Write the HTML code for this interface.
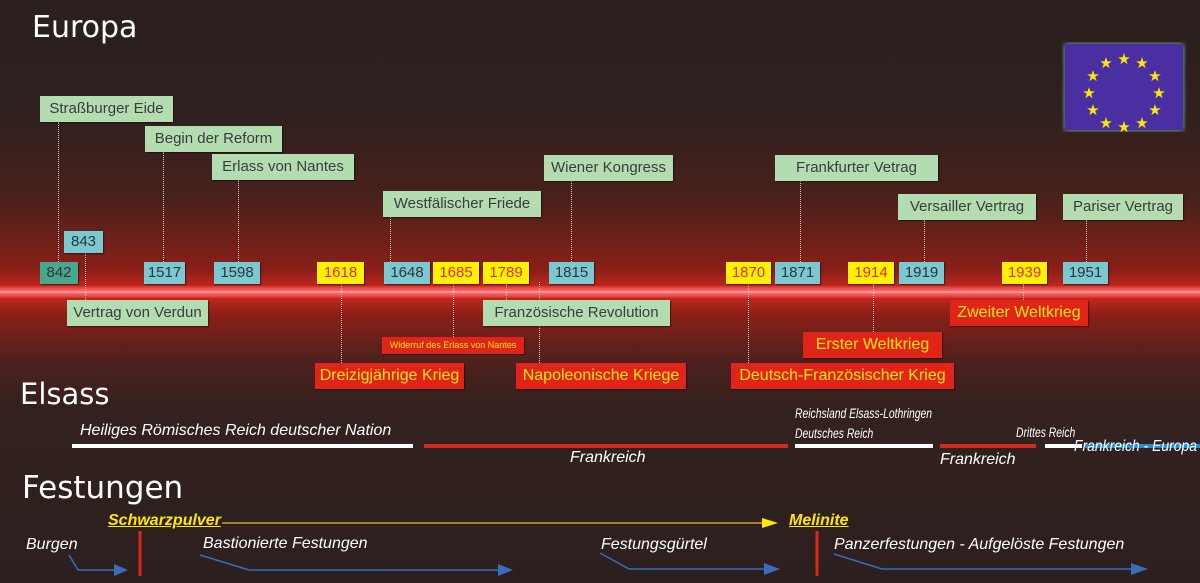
<!DOCTYPE html>
<html><head><meta charset="utf-8"><style>
*{margin:0;padding:0;box-sizing:border-box}
body{width:1200px;height:583px;overflow:hidden;position:relative;font-family:"Liberation Sans",sans-serif;
background:linear-gradient(to bottom,#2b201e 0px,#2e201e 110px,#4a211c 200px,#8a1f17 270px,#c8281e 289px,#c8281e 295px,#8a1f17 315px,#4f211d 360px,#32211f 410px,#2c201e 583px)}
.b{position:absolute;height:26px;font-size:15px;line-height:26px;text-align:center;white-space:nowrap;box-shadow:1px 1px 1px rgba(0,0,0,.5)}
.g{background:#b3dcb0;color:#3c3c3c}
.c{background:#7ac8d2;color:#333}
.d{background:#47a88e;color:#333}
.y{background:#fff200;color:#e8281e}
.r{background:#e0241a;color:#ffe800;font-size:16px}
.v{position:absolute;width:0;border-left:1px dotted #d8c8c0}
.t{position:absolute;color:#fff;font-family:"DejaVu Sans",sans-serif;white-space:nowrap}
.i{position:absolute;color:#fff;font-style:italic;font-size:16px;white-space:nowrap}
.h{position:absolute;height:4px}
</style></head><body>
<div style="position:absolute;left:0;top:286px;width:1200px;height:12px;background:linear-gradient(#d8302a,#ff6a6a 40%,#ffb0b0 50%,#ff6a6a 60%,#d8302a)"></div>
<div class="t" style="left:32px;top:10px;font-size:30px">Europa</div>
<div class="t" style="left:20px;top:377px;font-size:29px">Elsass</div>
<div class="t" style="left:22px;top:470px;font-size:31px">Festungen</div>
<svg style="position:absolute;left:1062px;top:42px" width="124" height="90">
<rect x="3" y="2" width="118" height="86" fill="#4a2fa3" style="filter:drop-shadow(0 0 3px #7bb)"/>
<g fill="#ffe800" font-size="15" text-anchor="middle" font-family="DejaVu Sans">
<text x="62" y="22">★</text><text x="80" y="26">★</text><text x="93" y="39">★</text><text x="97" y="56">★</text><text x="93" y="73">★</text><text x="80" y="86">★</text><text x="62" y="90">★</text><text x="44" y="86">★</text><text x="31" y="73">★</text><text x="27" y="56">★</text><text x="31" y="39">★</text><text x="44" y="26">★</text>
</g></svg>
<div class="v" style="left:58px;top:122px;height:140px"></div>
<div class="v" style="left:163px;top:152px;height:110px"></div>
<div class="v" style="left:238px;top:180px;height:82px"></div>
<div class="v" style="left:390px;top:217px;height:45px"></div>
<div class="v" style="left:571px;top:181px;height:81px"></div>
<div class="v" style="left:800px;top:181px;height:81px"></div>
<div class="v" style="left:924px;top:220px;height:42px"></div>
<div class="v" style="left:1086px;top:220px;height:42px"></div>
<div class="v" style="left:85px;top:253px;height:47px"></div>
<div class="v" style="left:506px;top:284px;height:16px"></div>
<div class="v" style="left:453px;top:284px;height:53px"></div>
<div class="v" style="left:341px;top:284px;height:79px"></div>
<div class="v" style="left:539px;top:282px;height:81px"></div>
<div class="v" style="left:748px;top:284px;height:79px"></div>
<div class="v" style="left:873px;top:284px;height:48px"></div>
<div class="v" style="left:1023px;top:284px;height:16px"></div>
<div class="b g" style="left:40px;top:96px;width:133px">Straßburger Eide</div>
<div class="b g" style="left:145px;top:126px;width:137px">Begin der Reform</div>
<div class="b g" style="left:212px;top:154px;width:142px">Erlass von Nantes</div>
<div class="b g" style="left:383px;top:191px;width:158px">Westfälischer Friede</div>
<div class="b g" style="left:544px;top:155px;width:129px">Wiener Kongress</div>
<div class="b g" style="left:775px;top:155px;width:163px">Frankfurter Vetrag</div>
<div class="b g" style="left:898px;top:194px;width:138px">Versailler Vertrag</div>
<div class="b g" style="left:1063px;top:194px;width:120px">Pariser Vertrag</div>
<div class="b c" style="left:64px;top:231px;width:39px;height:22px;line-height:22px">843</div>
<div class="b d" style="left:40px;top:262px;width:38px;height:22px;line-height:22px">842</div>
<div class="b c" style="left:144px;top:262px;width:41px;height:22px;line-height:22px">1517</div>
<div class="b c" style="left:214px;top:262px;width:46px;height:22px;line-height:22px">1598</div>
<div class="b y" style="left:317px;top:262px;width:47px;height:22px;line-height:22px">1618</div>
<div class="b c" style="left:384px;top:262px;width:46px;height:22px;line-height:22px">1648</div>
<div class="b y" style="left:433px;top:262px;width:46px;height:22px;line-height:22px">1685</div>
<div class="b y" style="left:483px;top:262px;width:46px;height:22px;line-height:22px">1789</div>
<div class="b c" style="left:549px;top:262px;width:45px;height:22px;line-height:22px">1815</div>
<div class="b y" style="left:726px;top:262px;width:45px;height:22px;line-height:22px">1870</div>
<div class="b c" style="left:775px;top:262px;width:45px;height:22px;line-height:22px">1871</div>
<div class="b y" style="left:848px;top:262px;width:46px;height:22px;line-height:22px">1914</div>
<div class="b c" style="left:899px;top:262px;width:45px;height:22px;line-height:22px">1919</div>
<div class="b y" style="left:1002px;top:262px;width:45px;height:22px;line-height:22px">1939</div>
<div class="b c" style="left:1063px;top:262px;width:45px;height:22px;line-height:22px">1951</div>
<div class="b g" style="left:67px;top:300px;width:141px">Vertrag von Verdun</div>
<div class="b g" style="left:483px;top:300px;width:187px">Französische Revolution</div>
<div class="b r" style="left:382px;top:337px;width:142px;height:17px;line-height:17px;font-size:9px">Widerruf des Erlass von Nantes</div>
<div class="b r" style="left:315px;top:363px;width:149px">Dreizigjährige Krieg</div>
<div class="b r" style="left:516px;top:363px;width:170px">Napoleonische Kriege</div>
<div class="b r" style="left:731px;top:363px;width:223px">Deutsch-Französischer Krieg</div>
<div class="b r" style="left:803px;top:332px;width:139px">Erster Weltkrieg</div>
<div class="b r" style="left:950px;top:300px;width:138px">Zweiter Weltkrieg</div>
<div class="i" style="left:80px;top:422px">Heiliges Römisches Reich deutscher Nation</div>
<div class="h" style="left:72px;top:444px;width:341px;background:#fff"></div>
<div class="h" style="left:424px;top:444px;width:364px;background:#d42a20"></div>
<div class="i" style="left:570px;top:449px">Frankreich</div>
<div class="i" style="left:795px;top:405px;font-size:14px;transform:scaleX(.74);transform-origin:left">Reichsland Elsass-Lothringen</div>
<div class="i" style="left:795px;top:425px;font-size:14px;transform:scaleX(.74);transform-origin:left">Deutsches Reich</div>
<div class="h" style="left:795px;top:444px;width:138px;background:#fff"></div>
<div class="h" style="left:940px;top:444px;width:96px;background:#d42a20"></div>
<div class="i" style="left:940px;top:451px">Frankreich</div>
<div class="i" style="left:1016px;top:424px;font-size:14px;transform:scaleX(.74);transform-origin:left">Drittes Reich</div>
<div class="h" style="left:1045px;top:444px;width:37px;background:#fff"></div>
<div class="h" style="left:1085px;top:444px;width:115px;background:#1e8ee0"></div>
<div class="i" style="left:1074px;top:438px;transform:scaleX(.87);transform-origin:left">Frankreich - Europa</div>
<div class="i" style="left:108px;top:512px;color:#ffe800;font-weight:bold;text-decoration:underline">Schwarzpulver</div>
<div class="i" style="left:789px;top:512px;color:#ffe800;font-weight:bold;text-decoration:underline">Melinite</div>
<div class="i" style="left:26px;top:536px">Burgen</div>
<div class="i" style="left:203px;top:535px">Bastionierte Festungen</div>
<div class="i" style="left:601px;top:536px">Festungsgürtel</div>
<div class="i" style="left:834px;top:536px">Panzerfestungen - Aufgelöste Festungen</div>
<svg style="position:absolute;left:0;top:0" width="1200" height="583">
<line x1="222" y1="523" x2="765" y2="523" stroke="#c8a818" stroke-width="1.5"/>
<polygon points="762,518 778,523 762,528" fill="#ffe800"/>
<line x1="140" y1="531" x2="140" y2="576" stroke="#e0241a" stroke-width="3"/>
<line x1="817" y1="531" x2="817" y2="576" stroke="#e0241a" stroke-width="3"/>
<g stroke="#3a6cb8" stroke-width="1.5" fill="none">
<polyline points="69,555 78,570 116,570"/>
<polyline points="200,555 249,570 500,570"/>
<polyline points="600,553 629,569 765,569"/>
<polyline points="834,554 882,569 1132,569"/>
</g>
<g fill="#3a6cb8">
<polygon points="114,564 128,570 114,576"/>
<polygon points="498,564 513,570 498,576"/>
<polygon points="764,563 780,569 764,575"/>
<polygon points="1131,563 1148,569 1131,575"/>
</g>
</svg>
</body></html>
